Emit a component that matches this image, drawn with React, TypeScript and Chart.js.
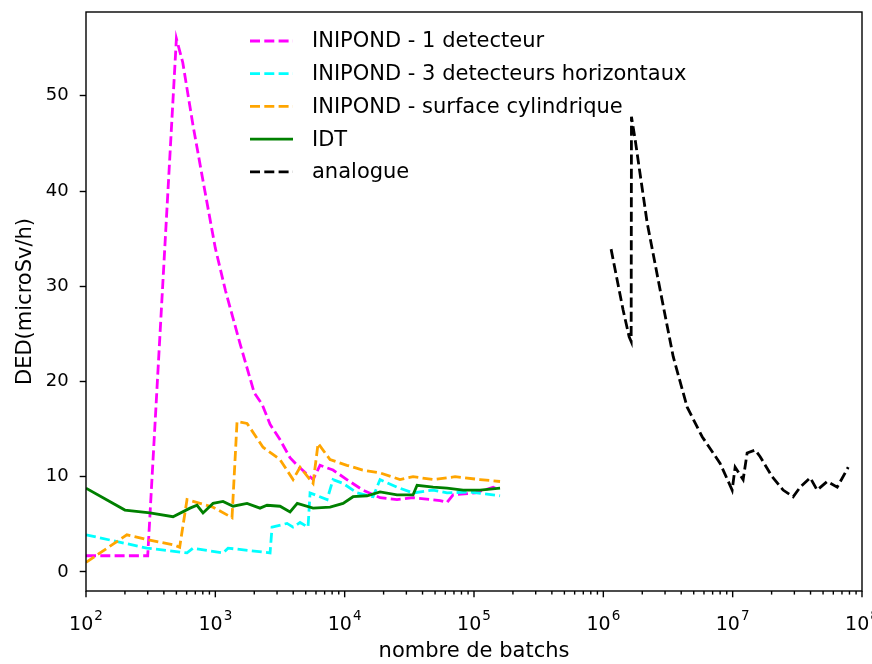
import React, { useEffect, useRef } from 'react';
import { Chart, registerables } from 'chart.js';

Chart.register(...registerables);

// ---------- data ----------
const seriesLabels = [
  'INIPOND - 1 detecteur',
  'INIPOND - 3 detecteurs horizontaux',
  'INIPOND - surface cylindrique',
  'IDT',
  'analogue',
];
const seriesColors = ['#ff00ff', '#00ffff', '#ffa500', '#008000', '#000000'];
const seriesDashed = [true, true, true, false, true];

const magentaX = [100, 300, 500, 560, 670, 830, 1000, 1200, 1550, 2000, 2300, 2650, 3160, 3780, 4300, 5700, 6450, 8130, 10400, 13800, 18800, 25400, 33800, 54700, 61900, 68900, 102000, 140600, 156000];
const magentaY = [1.7, 1.7, 56.0, 53.5, 47.0, 40.0, 34.0, 29.5, 24.0, 18.8, 17.6, 15.5, 13.9, 12.0, 11.2, 9.7, 11.2, 10.7, 9.7, 8.6, 7.8, 7.6, 7.8, 7.5, 7.3, 8.1, 8.3, 8.9, 8.6];

const cyanX = [100, 296, 604, 672, 1147, 1254, 2650, 2745, 3585, 3990, 4520, 5210, 5400, 7310, 8130, 9720, 12480, 16580, 18780, 25400, 33800, 48300, 61900, 93300, 159000];
const cyanY = [3.9, 2.5, 2.0, 2.5, 2.0, 2.5, 2.0, 4.7, 5.1, 4.7, 5.2, 4.7, 8.3, 7.6, 9.7, 9.3, 8.3, 7.9, 9.7, 8.9, 8.3, 8.6, 8.3, 8.4, 8.0];

const orangeX = [100, 207, 296, 488, 530, 604, 762, 960, 1346, 1472, 1759, 2337, 3165, 3990, 4520, 5700, 6230, 7710, 10400, 13800, 18800, 26800, 33800, 48300, 71400, 111400, 159000];
const orangeY = [1.0, 3.9, 3.4, 2.8, 2.6, 7.6, 7.2, 6.8, 5.7, 15.8, 15.6, 13.1, 11.8, 9.7, 11.0, 9.3, 13.5, 11.8, 11.2, 10.7, 10.4, 9.7, 10.0, 9.7, 10.0, 9.7, 9.5];

const greenX = [100, 200, 312, 471, 637, 722, 803, 960, 1147, 1371, 1759, 2216, 2510, 3165, 3782, 4300, 5700, 7710, 9720, 11610, 14900, 18780, 25400, 33800, 36300, 48300, 61900, 82400, 111400, 159000];
const greenY = [8.8, 6.5, 6.2, 5.8, 6.7, 7.0, 6.2, 7.2, 7.4, 6.9, 7.2, 6.7, 7.0, 6.9, 6.3, 7.2, 6.7, 6.8, 7.2, 7.9, 8.0, 8.4, 8.1, 8.1, 9.1, 8.9, 8.8, 8.6, 8.6, 8.8];

const blackX = [1.148e6, 1.422e6, 1.583e6, 1.641e6, 1.65e6, 1.762e6, 2.18e6, 2.75e6, 3.47e6, 4.45e6, 5.81e6, 8.0e6, 9.91e6, 1.045e7, 1.205e7, 1.294e7, 1.493e7, 1.632e7, 2.02e7, 2.455e7, 2.936e7, 3.326e7, 3.975e7, 4.5e7, 5.38e7, 6.43e7, 7.41e7, 7.82e7];
const blackY = [33.9, 27.5, 24.7, 24.2, 47.8, 45.4, 36.7, 29.6, 22.6, 17.3, 14.2, 11.4, 8.6, 11.0, 9.7, 12.5, 12.8, 12.1, 10.0, 8.6, 7.9, 8.9, 9.9, 8.6, 9.5, 8.9, 10.4, 11.0];

const xMajorTicks = [1e2, 1e3, 1e4, 1e5, 1e6, 1e7, 1e8];
const xMajorBase = '10';
const xMajorExponents = ['2', '3', '4', '5', '6', '7', '8'];
const xMinorMultipliers = [2, 3, 4, 5, 6, 7, 8, 9];
const yTicks = [0, 10, 20, 30, 40, 50];

const xTitle = 'nombre de batchs';
const yTitle = 'DED(microSv/h)';

const seriesX = [magentaX, cyanX, orangeX, greenX, blackX];
const seriesY = [magentaY, cyanY, orangeY, greenY, blackY];

const FONT = 'DejaVu Sans';
const LW = 2.8;
const DASH = [10, 4.3];

const framePlugin = {
  id: 'frameTicksLegend',
  afterDraw(chart: any) {
    const { ctx, chartArea } = chart;
    const { left, right, top, bottom } = chartArea;
    const xs = chart.scales.x;
    ctx.save();
    ctx.strokeStyle = '#000';
    ctx.lineWidth = 1.4;
    ctx.setLineDash([]);
    xs.ticks.forEach((t: any) => {
      const px = xs.getPixelForValue(t.value);
      const len = t.major ? 6.3 : 3.6;
      ctx.beginPath();
      ctx.moveTo(px, bottom);
      ctx.lineTo(px, bottom + len);
      ctx.stroke();
    });
    ctx.strokeRect(left, top, right - left, bottom - top);

    // x tick labels with superscript exponents (10^n)
    ctx.fillStyle = '#000';
    ctx.textAlign = 'left';
    ctx.textBaseline = 'alphabetic';
    xMajorTicks.forEach((v, k) => {
      const px = xs.getPixelForValue(v);
      ctx.font = `19px "${FONT}"`;
      const w1 = ctx.measureText(xMajorBase).width;
      ctx.font = `13.5px "${FONT}"`;
      const w2 = ctx.measureText(xMajorExponents[k]).width;
      const start = px - (w1 + w2 + 1) / 2;
      ctx.font = `19px "${FONT}"`;
      ctx.fillText(xMajorBase, start, bottom + 39);
      ctx.font = `13.5px "${FONT}"`;
      ctx.fillText(xMajorExponents[k], start + w1 + 1, bottom + 29);
    });

    // legend
    const lx0 = 250;
    const lx1 = 293;
    const tx = 312;
    const y0 = 41;
    const dy = 32.7;
    ctx.font = `21px "${FONT}"`;
    ctx.textBaseline = 'middle';
    ctx.textAlign = 'left';
    chart.data.datasets.forEach((ds: any, i: number) => {
      const y = y0 + i * dy;
      ctx.strokeStyle = ds.borderColor;
      ctx.lineWidth = ds.borderWidth;
      ctx.setLineDash(ds.borderDash || []);
      ctx.beginPath();
      ctx.moveTo(lx0, y);
      ctx.lineTo(lx1, y);
      ctx.stroke();
      ctx.setLineDash([]);
      ctx.fillStyle = '#000';
      ctx.fillText(ds.label, tx, y + 1);
    });
    ctx.restore();
  },
};

export default function App() {
  const canvasRef = useRef<HTMLCanvasElement | null>(null);

  useEffect(() => {
    if (!canvasRef.current) return;
    Chart.defaults.font.family = FONT;
    Chart.defaults.color = '#000';

    const datasets = seriesLabels.map((label, i) => ({
      label,
      data: seriesX[i].map((x, j) => ({ x, y: seriesY[i][j] })),
      borderColor: seriesColors[i],
      backgroundColor: seriesColors[i],
      borderWidth: LW,
      borderDash: seriesDashed[i] ? DASH : [],
      pointRadius: 0,
      tension: 0,
      fill: false,
      order: seriesLabels.length - i,
    }));

    const chart = new Chart(canvasRef.current, {
      type: 'line',
      data: { datasets },
      options: {
        animation: false,
        responsive: false,
        devicePixelRatio: 1,
        layout: { padding: { left: 0, right: 10, top: 12, bottom: 0 } },
        plugins: {
          legend: { display: false },
          tooltip: { enabled: false },
        },
        scales: {
          x: {
            type: 'logarithmic',
            min: 1e2,
            max: 1e8,
            afterBuildTicks: (scale: any) => {
              const ticks: any[] = [];
              xMajorTicks.forEach((v, k) => {
                ticks.push({ value: v, major: true });
                if (k < xMajorTicks.length - 1) {
                  xMinorMultipliers.forEach((m) => ticks.push({ value: v * m, major: false }));
                }
              });
              scale.ticks = ticks;
            },
            afterFit: (scale: any) => {
              scale.height = 73;
              scale.paddingLeft = 0;
              scale.paddingRight = 0;
            },
            grid: { display: false },
            border: { display: false },
            ticks: {
              autoSkip: false,
              maxRotation: 0,
              font: { size: 18 },
              callback: () => '',
            },
            title: {
              display: true,
              text: xTitle,
              font: { size: 21 },
              color: '#000',
              padding: { top: 0, bottom: 0 },
            },
          },
          y: {
            type: 'linear',
            min: -2.0,
            max: 58.8,
            afterBuildTicks: (scale: any) => {
              scale.ticks = yTicks.map((v) => ({ value: v }));
            },
            afterFit: (scale: any) => {
              scale.width = 86;
              scale.paddingTop = 0;
              scale.paddingBottom = 0;
            },
            grid: {
              display: true,
              drawOnChartArea: false,
              drawTicks: true,
              tickLength: 6.3,
              tickWidth: 1.4,
              tickColor: '#000',
              color: '#000',
            },
            border: { display: false },
            ticks: {
              padding: 11,
              font: { size: 18 },
              color: '#000',
            },
            title: {
              display: true,
              text: yTitle,
              font: { size: 21 },
              color: '#000',
              padding: { top: 13, bottom: 0 },
            },
          },
        },
      },
      plugins: [framePlugin],
    });

    return () => {
      chart.destroy();
    };
  }, []);

  return (
    <div style={{ position: 'absolute', left: 0, top: 0, width: 872, height: 664, background: '#fff' }}>
      <canvas ref={canvasRef} width={872} height={664} style={{ display: 'block' }} />
    </div>
  );
}
